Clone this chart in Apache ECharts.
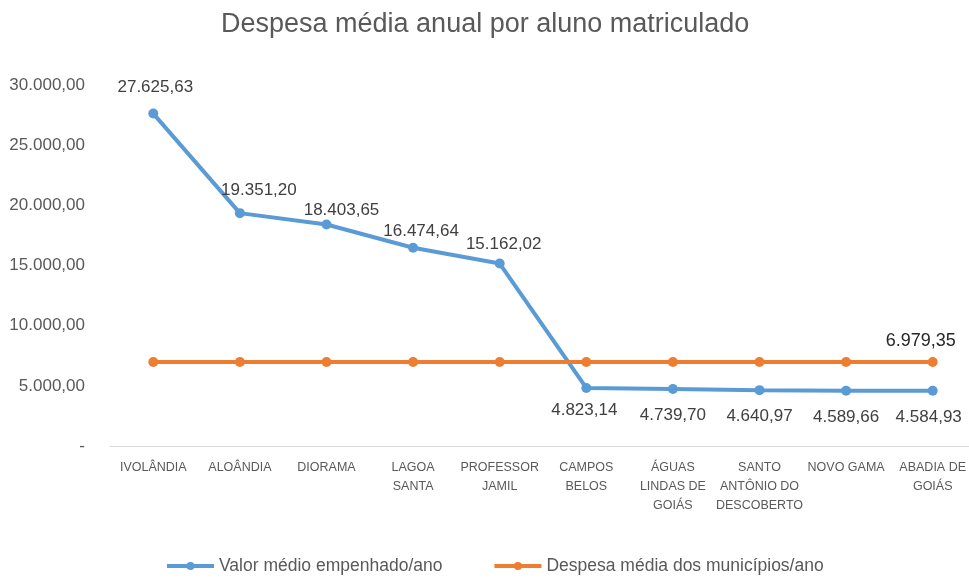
<!DOCTYPE html>
<html><head><meta charset="utf-8">
<script src="https://cdn.jsdelivr.net/npm/echarts@6/dist/echarts.min.js"></script>
<style>html,body{margin:0;padding:0;background:#fff;overflow:hidden}#c{width:976px;height:582px}</style>
</head><body><div id="c"></div>
<script>
const categories = ["IVOLÂNDIA","ALOÂNDIA","DIORAMA","LAGOA\nSANTA","PROFESSOR\nJAMIL","CAMPOS\nBELOS","ÁGUAS\nLINDAS DE\nGOIÁS","SANTO\nANTÔNIO DO\nDESCOBERTO","NOVO GAMA","ABADIA DE\nGOIÁS"];
const valorMedio = [27625.63,19351.20,18403.65,16474.64,15162.02,4823.14,4739.70,4640.97,4589.66,4584.93];
const despesaMedia = [6979.35,6979.35,6979.35,6979.35,6979.35,6979.35,6979.35,6979.35,6979.35,6979.35];
const seriesNames = ["Valor médio empenhado/ano","Despesa média dos municípios/ano"];
const yTicks = {min:0, max:30000, interval:5000};

function fmt(v){
  const s = v.toFixed(2).split('.');
  return s[0].replace(/\B(?=(\d{3})+(?!\d))/g,'.') + ',' + s[1];
}
const FONT = "'Liberation Sans', Arial, sans-serif";
// label placement per point (styling only)
const blueLabelStyle = [
  {position:'top', offset:[2,-5]},
  {position:'top', offset:[19,-1]},
  {position:'top', offset:[15,7]},
  {position:'top', offset:[8,5]},
  {position:'top', offset:[4,2]},
  {position:'bottom', offset:[-2,1]},
  {position:'bottom', offset:[0,5]},
  {position:'bottom', offset:[0,5]},
  {position:'bottom', offset:[0,5]},
  {position:'bottom', offset:[-4,5]}
];
const blueData = valorMedio.map((v,i)=>({value:v, label:Object.assign({show:true, distance:8}, blueLabelStyle[i])}));
const orangeData = despesaMedia.map((v,i)=>({value:v, label:{show:i===despesaMedia.length-1, position:'top', distance:8, offset:[-12,1], color:'#262626', fontSize:18}}));

const chart = echarts.init(document.getElementById('c'));
chart.setOption({
  animation:false,
  backgroundColor:'#fff',
  title:{text:'Despesa média anual por aluno matriculado', left:216, top:6,
    textStyle:{fontFamily:FONT, fontSize:27, fontWeight:'normal', color:'#595959'}},
  grid:{left:110, right:0, top:85, height:361},
  legend:{bottom:2, left:160, itemGap:50, itemWidth:47, itemHeight:10,
    lineStyle:{width:4},
    textStyle:{fontFamily:FONT, fontSize:17.5, color:'#595959'}, data:seriesNames},
  xAxis:{type:'category', data:categories, boundaryGap:true,
    axisLine:{lineStyle:{color:'#D9D9D9', width:1}}, axisTick:{show:false},
    axisLabel:{interval:0, fontFamily:FONT, fontSize:12.5, color:'#595959', lineHeight:19, margin:12}},
  yAxis:{type:'value', min:yTicks.min, max:yTicks.max, interval:yTicks.interval,
    splitLine:{show:false}, axisLine:{show:false}, axisTick:{show:false},
    axisLabel:{fontFamily:FONT, fontSize:17, color:'#595959', margin:25,
      formatter:v=> v===0 ? '-' : fmt(v)}},
  series:[
    {name:seriesNames[0], type:'line', data:blueData, symbol:'circle', symbolSize:10,
      itemStyle:{color:'#5B9BD5'}, lineStyle:{width:4, color:'#5B9BD5'},
      label:{fontFamily:FONT, fontSize:17, color:'#404040', formatter:p=>fmt(p.value)}},
    {name:seriesNames[1], type:'line', data:orangeData, symbol:'circle', symbolSize:10,
      itemStyle:{color:'#ED7D31'}, lineStyle:{width:4, color:'#ED7D31'},
      label:{fontFamily:FONT, formatter:p=>fmt(p.value)}}
  ]
});
</script></body></html>
